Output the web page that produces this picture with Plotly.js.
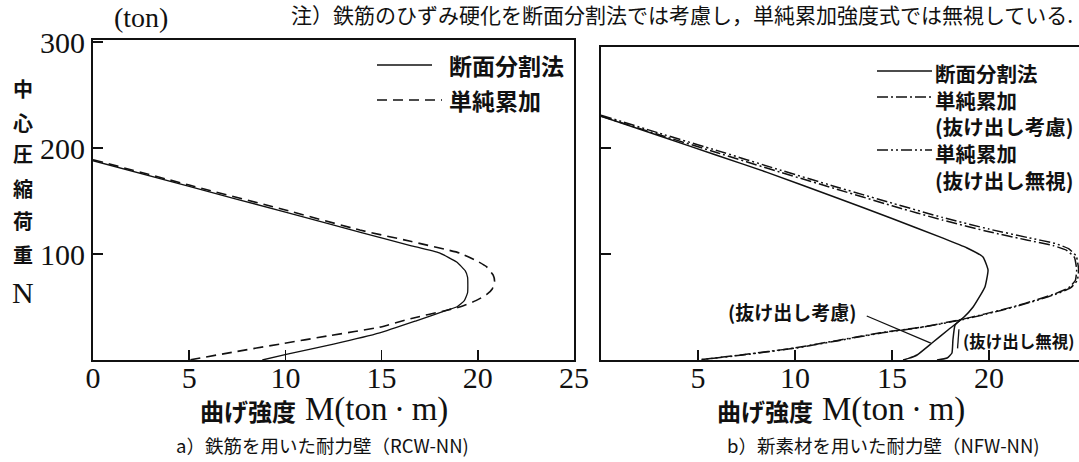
<!DOCTYPE html>
<html><head><meta charset="utf-8">
<script src="https://cdn.plot.ly/plotly-3.0.1.min.js"></script>
<style>html,body{margin:0;padding:0;background:#fff}#chart{width:1079px;height:462px}</style>
</head><body><div id="chart"></div>
<script>
// ---------- data (M: bending strength ton·m, N: axial load ton) ----------
// a) RCW-NN
const leftSolidM = [0, 5, 10, 14.0, 16.5, 18.0, 18.9, 19.35, 19.47, 19.47, 19.3, 18.9, 18.4, 16.8, 14.9, 12.5, 10.1, 8.8];
const leftSolidN = [188, 163.7, 139.5, 120, 108, 101, 92.5, 84, 78, 63.5, 56, 50, 47, 37, 25.6, 15, 5.5, 0];
const leftDashM  = [0, 5, 10, 13.87, 16.5, 18.4, 19.05, 20.0, 20.45, 20.8, 20.87, 20.75, 20.45, 19.9, 19.05, 18.4, 16.5, 14.9, 12.3, 9.7, 7.3, 5.0];
const leftDashN  = [189, 165, 141.5, 122.6, 112, 104, 101, 93, 88, 80, 74, 67, 61.6, 56, 50, 47, 39, 31, 23, 15, 7.5, 0];
// b) NFW-NN
const rightSolidM = [0, 3, 6, 8.56, 12, 15, 17.63, 18.87, 19.69, 19.95, 19.79, 19.18, 18.66, 17.9, 17.06, 16.29, 15.85, 15.57];
const rightSolidN = [230, 211.5, 193, 177, 154, 133.5, 115, 105.7, 97.2, 84.9, 68.9, 50, 39.6, 28.5, 16, 4.7, 1.5, 0];
const rightSolidIgnoreM = [18.66, 18.25, 18.14, 18.09, 17.84, 17.32];
const rightSolidIgnoreN = [39.6, 33, 18.9, 6.6, 1.9, 0];
const rightConsiderM = [0, 3, 6, 9, 12, 15, 17.6, 20, 22, 23.3, 24.0, 24.4, 24.52, 24.45, 24.1, 23.4, 22.5, 21.2, 19.8, 18.4, 16.5, 14.4, 12.2, 10.0, 7.2, 5.0];
const rightConsiderN = [230, 212.5, 195.5, 178.5, 162, 145.5, 132, 121, 113, 108, 103.5, 97, 85, 75, 68, 62.5, 57, 50, 43.5, 37.5, 31, 25.6, 18.5, 11.4, 4.7, 0];
const rightIgnoreM = [0, 3, 6, 9, 12, 15, 17.6, 20, 22, 23.4, 24.1, 24.5, 24.62, 24.55, 24.2, 23.5, 22.6, 21.3, 19.9, 18.5, 16.6, 14.5, 12.3, 10.1, 7.3, 5.0];
const rightIgnoreN = [231, 214, 197.5, 180.5, 164, 148, 134.5, 123.5, 115.5, 110, 105, 98, 85, 75, 68, 62.5, 57, 50, 43.5, 37.5, 31, 25.6, 18.5, 11.4, 4.7, 0];
// leader lines (data coords of right panel)
const leaderConsiderM = [13.7, 17.0];
const leaderConsiderN = [41.5, 16];
const leaderIgnoreM = [18.45, 18.38];
const leaderIgnoreN = [29, 11];
// ticks
const xTicksLeft = [0, 5, 10, 15, 20, 25];
const xTicksRight = [5, 10, 15, 20];
const yTicksLeft = [100, 200, 300];
const yTicksRight = [100, 200];
// texts
const noteText = '注）鉄筋のひずみ硬化を断面分割法では考慮し，単純累加強度式では無視している.';
const yTitleChars = ['中', '心', '圧', '縮', '荷', '重'];
const yTitleLetter = 'N';
const unitText = '(ton)';
const xTitleJa = '曲げ強度';
const xTitleUnit = 'M(ton\u2009·\u2009m)';
const captionA = 'a）鉄筋を用いた耐力壁（RCW-NN)';
const captionB = 'b）新素材を用いた耐力壁（NFW-NN)';
const legendLeft = ['断面分割法', '単純累加'];
const legendRight = ['断面分割法', '単純累加', '(抜け出し考慮)', '単純累加', '(抜け出し無視)'];
const leaderTexts = ['(抜け出し考慮)', '(抜け出し無視)'];

// ---------- styling ----------
const W = 1079, H = 462;
const fx = x => x / W, fy = y => 1 - y / H;
const INK = '#111';
const CJK = '"Noto Sans CJK JP", sans-serif';
const SERIF = '"Liberation Serif", "DejaVu Serif", serif';
const DASH = '10px,6px';
const DASHDOT = '11px,3px,2px,3px';
const DASHDOTDOT = '11px,3px,2px,3px,2px,3px';

function line(xs, ys, xa, ya, dash, w) {
  return {x: xs, y: ys, xaxis: xa, yaxis: ya, type: 'scatter', mode: 'lines',
    line: {color: INK, width: w || 1.5, dash: dash || 'solid', shape: 'spline', smoothing: 0.4},
    showlegend: false, hoverinfo: 'skip'};
}
const traces = [
  line(leftSolidM, leftSolidN, 'x', 'y', 'solid', 1.3),
  line(leftDashM, leftDashN, 'x', 'y', DASH, 1.6),
  line(rightSolidM, rightSolidN, 'x2', 'y2', 'solid', 1.5),
  line(rightSolidIgnoreM, rightSolidIgnoreN, 'x2', 'y2', 'solid', 1.5),
  line(rightConsiderM, rightConsiderN, 'x2', 'y2', DASHDOT, 1.5),
  line(rightIgnoreM, rightIgnoreN, 'x2', 'y2', DASHDOTDOT, 1.5)
];

const axisBase = {showline: true, linecolor: INK, linewidth: 2, ticks: 'inside', ticklen: 10,
  tickwidth: 1.5, tickcolor: INK, showgrid: false, zeroline: false, fixedrange: true,
  tickfont: {family: SERIF, size: 30, color: INK}};

function ann(text, x, y, size, family, xa, extra) {
  return Object.assign({text: text, x: fx(x), y: fy(y), xref: 'paper', yref: 'paper',
    showarrow: false, xanchor: xa || 'center', yanchor: 'middle',
    font: {family: family, size: size, color: INK}}, extra || {});
}
const bold = s => ({family: CJK, size: s, color: INK, weight: 700});
const annotations = [
  ann(unitText, 141, 17, 28, SERIF),
  ann(noteText, 289, 14, 21, CJK, 'left'),
  ann(yTitleLetter, 23, 292, 30, SERIF),
  ann(xTitleJa, 298, 410, 24, CJK, 'right', {font: bold(24)}),
  ann(xTitleUnit, 303, 409, 33, SERIF, 'left'),
  ann(xTitleJa, 815, 410, 24, CJK, 'right', {font: bold(24)}),
  ann(xTitleUnit, 820, 409, 33, SERIF, 'left'),
  ann(captionA, 323, 445, 18.5, CJK),
  ann(captionB, 883, 445, 18.5, CJK)
];
const yCharY = [88, 122, 154, 188, 221, 254];
yTitleChars.forEach((c, i) => annotations.push(ann(c, 23, yCharY[i], 20, CJK, 'center', {font: bold(20)})));
const legLY = [65, 100];
legendLeft.forEach((t, i) => annotations.push(ann(t, 447, legLY[i], 23, CJK, 'left', {font: bold(23)})));
// right legend: one text block, one line per row
const legRY = [71, 97, 150];
annotations.push(ann(legendRight.join('<br>'), 933, 56, 20.5, CJK, 'left',
  {font: bold(20.5), yanchor: 'top', align: 'left'}));
annotations.push(ann(leaderTexts[0], 792, 311, 19, CJK, 'center', {font: bold(19)}));
annotations.push(ann(leaderTexts[1], 961, 341, 16.5, CJK, 'left', {font: bold(16.5)}));

function seg(x0, x1, y, dash) {
  return {type: 'line', xref: 'paper', yref: 'paper', x0: fx(x0), x1: fx(x1), y0: fy(y), y1: fy(y),
    line: {color: INK, width: 1.6, dash: dash}};
}
const shapes = [
  seg(377, 432, legLY[0], 'solid'),
  seg(377, 442, legLY[1], DASH),
  seg(877, 932, legRY[0], 'solid'),
  seg(877, 932, legRY[1], DASHDOT),
  seg(877, 932, legRY[2], DASHDOTDOT),
  {type: 'line', xref: 'x2', yref: 'y2', x0: leaderConsiderM[0], x1: leaderConsiderM[1],
    y0: leaderConsiderN[0], y1: leaderConsiderN[1], line: {color: INK, width: 1.3}},
  {type: 'line', xref: 'x2', yref: 'y2', x0: leaderIgnoreM[0], x1: leaderIgnoreM[1],
    y0: leaderIgnoreN[0], y1: leaderIgnoreN[1], line: {color: INK, width: 1.3}}
];

const layout = {
  width: W, height: H, margin: {l: 0, r: 0, t: 0, b: 0},
  paper_bgcolor: '#fff', plot_bgcolor: '#fff', showlegend: false,
  xaxis: Object.assign({}, axisBase, {domain: [fx(93), fx(574)], range: [0, 25], anchor: 'y', mirror: true,
    tickvals: xTicksLeft, ticktext: xTicksLeft.map(String), ticklabelstandoff: -10}),
  yaxis: Object.assign({}, axisBase, {domain: [fy(360), fy(40)], range: [0, 320 / 1.06], anchor: 'x', mirror: true,
    tickvals: yTicksLeft, ticktext: yTicksLeft.map(String)}),
  xaxis2: Object.assign({}, axisBase, {domain: [fx(601), 1], range: [0, 478 / 19.4], anchor: 'y2', mirror: true,
    tickvals: xTicksRight, ticktext: xTicksRight.map(String), ticklabelstandoff: -10}),
  yaxis2: Object.assign({}, axisBase, {domain: [fy(360), fy(47)], range: [0, 313 / 1.06], anchor: 'x2', mirror: false,
    tickvals: yTicksRight, showticklabels: false}),
  annotations: annotations, shapes: shapes
};
Plotly.newPlot('chart', traces, layout, {staticPlot: true, displayModeBar: false});
</script></body></html>
